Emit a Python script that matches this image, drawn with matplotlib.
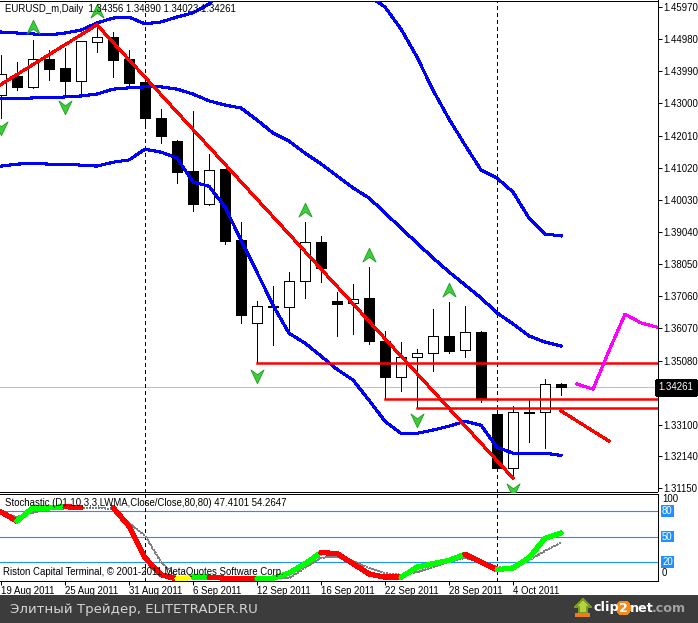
import matplotlib
matplotlib.use('Agg')
import matplotlib.pyplot as plt
from matplotlib.patches import Rectangle, Circle, Polygon
from matplotlib.collections import LineCollection
from matplotlib.path import Path
import numpy as np

plt.rcParams['font.family'] = ['Liberation Sans', 'DejaVu Sans']
plt.rcParams['lines.antialiased'] = False
plt.rcParams['patch.antialiased'] = False

# EURUSD_m daily bars, 19 Aug 2011 .. 7 Oct 2011 (bar index 0..35)
opens = [1.4326, 1.4385, 1.4351, 1.4437, 1.4409, 1.4369, 1.4489, 1.4505, 1.4437, 1.4366,
         1.4255, 1.4184, 1.4092, 1.3990, 1.4098, 1.3879, 1.3624, 1.3676, 1.3673, 1.3753,
         1.3873, 1.3692, 1.3685, 1.3701, 1.3568, 1.3457, 1.3519, 1.3531, 1.3584, 1.3541,
         1.3596, 1.3344, 1.3177, 1.3350, 1.3350, 1.34356]
highs = [1.4449, 1.4428, 1.4495, 1.4465, 1.4471, 1.4492, 1.4542, 1.4520, 1.4465, 1.4381,
         1.4283, 1.4187, 1.4277, 1.4144, 1.4098, 1.3935, 1.3692, 1.3738, 1.3781, 1.3935,
         1.3892, 1.3719, 1.3744, 1.3796, 1.3599, 1.3565, 1.3544, 1.3667, 1.3688, 1.3676,
         1.3599, 1.3356, 1.3368, 1.3387, 1.3451, 1.34390]
lows = [1.4255, 1.4341, 1.4348, 1.4372, 1.4326, 1.4320, 1.4458, 1.4381, 1.4351, 1.4224,
        1.4178, 1.4055, 1.3969, 1.3987, 1.3867, 1.3624, 1.3500, 1.3556, 1.3593, 1.3701,
        1.3750, 1.3584, 1.3590, 1.3559, 1.3390, 1.3414, 1.3362, 1.3476, 1.3531, 1.3519,
        1.3380, 1.3171, 1.3146, 1.3257, 1.3239, 1.34023]
closes = [1.4391, 1.4351, 1.4437, 1.4406, 1.4369, 1.4492, 1.4505, 1.4434, 1.4363, 1.4255,
          1.4200, 1.4089, 1.3990, 1.4095, 1.3876, 1.3648, 1.3676, 1.3673, 1.3753, 1.3873,
          1.3793, 1.3682, 1.3698, 1.3568, 1.3457, 1.3519, 1.3531, 1.3584, 1.3537, 1.3596,
          1.3390, 1.3177, 1.3350, 1.3347, 1.3436, 1.34261]

# bands (blue)
band_up = [1.4520, 1.4517, 1.4514, 1.4511, 1.4517, 1.4526, 1.4548, 1.4563, 1.4566, 1.4545,
           1.4551, 1.4566, 1.4579, 1.4606, 1.4656, 1.4696, 1.4726, 1.4742, 1.4748, 1.4742,
           1.4726, 1.4705, 1.4674, 1.4631, 1.4597, 1.4529, 1.4443, 1.4341, 1.4252, 1.4172,
           1.4095, 1.4070, 1.4027, 1.3947, 1.3898, 1.3892]
band_mid = [1.4314, 1.4314, 1.4317, 1.4317, 1.4320, 1.4323, 1.4329, 1.4344, 1.4348, 1.4351,
            1.4351, 1.4344, 1.4329, 1.4308, 1.4295, 1.4286, 1.4249, 1.4209, 1.4184, 1.4147,
            1.4114, 1.4077, 1.4040, 1.4009, 1.3963, 1.3916, 1.3870, 1.3824, 1.3781, 1.3741,
            1.3701, 1.3655, 1.3621, 1.3584, 1.3565, 1.3553]
band_low = [1.4107, 1.4113, 1.4116, 1.4113, 1.4113, 1.4110, 1.4107, 1.4119, 1.4126, 1.4159,
            1.4150, 1.4132, 1.4058, 1.4045, 1.3981, 1.3879, 1.3780, 1.3679, 1.3592, 1.3562,
            1.3522, 1.3481, 1.3448, 1.3386, 1.3321, 1.3284, 1.3284, 1.3294, 1.3306, 1.3321,
            1.3309, 1.3241, 1.3223, 1.3223, 1.3223, 1.3216]

# zigzag, support lines, projections
zz_idx = [-1, 6, 32]
zz_price = [1.4328, 1.4542, 1.3146]
support_bars = [16, 24, 26]
diag_idx = [35, 38]
diag_price = [1.3353, 1.3260]
proj_idx = [36, 37, 38, 39, 40, 41]
proj_price = [1.3436, 1.3420, 1.3538, 1.3651, 1.3624, 1.3611]

up_idx = [2, 6, 19, 23, 28]
up_price = [1.4535, 1.4585, 1.3972, 1.3833, 1.3725]
dn_idx = [0, 4, 16, 26, 32]
dn_price = [1.4224, 1.4289, 1.3460, 1.3325, 1.3109]

separators = [9, 31]

# stochastic
stoch_main = [79, 68, 84, 84, 85, 84, 85, 84, 62, 25, 5, 0, 2, 2, 1, 0, 0, 1, 7, 18,
              31, 30, 18, 6, 2, 2, 14, 18, 22, 29, 20, 11, 13, 25, 48, 54.26]
stoch_sig = [78, 73, 78, 82, 83, 84, 84, 82, 66, 51, 20, 2, 1, 1, 1, 1, 1, 1, 1, 13,
             25, 26, 21, 13, 7, 5, 8, 14, 20, 25, 20, 14, 13, 22, 33, 43]
seg_colors = ['r', 'g', 'g', 'g', 'r', None, None, 'r', 'r', 'r', 'r', 'y', 'g', 'r', 'r',
              'r', 'g', 'g', 'g', 'g', 'r', 'r', 'r', 'r', 'r', 'g', 'g', 'g', 'g', 'r',
              'r', 'g', 'g', 'g', 'g']

tick_idx = [0, 4, 8, 12, 16, 20, 24, 28, 32]
tick_labels = ['19 Aug 2011', '25 Aug 2011', '31 Aug 2011', '6 Sep 2011', '12 Sep 2011',
               '16 Sep 2011', '22 Sep 2011', '28 Sep 2011', '4 Oct 2011']
price_ticks = ['1.45970', '1.44980', '1.43990', '1.43000', '1.42010', '1.41020', '1.40030',
               '1.39040', '1.38050', '1.37060', '1.36070', '1.35080', '1.34090', '1.33100',
               '1.32140', '1.31150']

W, H = 698, 623
PTOP, PPX = 1.46186, 0.000308   # price at pixel row 0, price per pixel
BAR = 16.0                       # pixels per bar
FS = 6.9
LW = 1.5


def rect(x0, y0, x1, y1):
    return [x0 / W, 1 - y1 / H, (x1 - x0) / W, (y1 - y0) / H]


fig = plt.figure(figsize=(W / 100, H / 100), dpi=100, facecolor='white')

# ---- price window
x0, x1, y0, y1 = 0, 657.5, 0.5, 491.5
ax = fig.add_axes(rect(x0, y0, x1, y1))
ax.set_xlim((x0 - 1) / BAR, (x1 - 1) / BAR)
ax.set_ylim(PTOP - PPX * y1, PTOP - PPX * y0)
ax.spines['left'].set_visible(False)
for s in ['top', 'right', 'bottom']:
    ax.spines[s].set_linewidth(0.72)

ax.axhline(closes[-1], color='#c0c0c0', lw=0.72, zorder=1)

for i in range(len(opens)):
    o, h, l, c = opens[i], highs[i], lows[i], closes[i]
    ax.vlines(i, l, h, color='black', lw=0.72, zorder=2)
    bottom = min(o, c)
    height = max(abs(c - o), PPX * 0.9)
    fc = 'white' if c > o else 'black'
    ax.add_patch(Rectangle((i - 0.31, bottom), 0.62, height, facecolor=fc,
                           edgecolor='black', lw=0.72, zorder=2.5))

idx = np.arange(len(opens))
for band in [band_up, band_mid, band_low]:
    ax.plot(idx, band, color='#0000ff', lw=LW, zorder=3)

ax.plot(zz_idx, zz_price, color='#ff0000', lw=LW, zorder=3)
for b in support_bars:
    ax.plot([b, 45], [lows[b], lows[b]], color='#ff0000', lw=1.8, zorder=3,
            antialiased=True)
ax.plot(diag_idx, diag_price, color='#ff0000', lw=LW, zorder=3)
ax.plot(proj_idx, proj_price, color='#ff00ff', lw=LW, zorder=3)

up_path = Path([(0, 0.5), (0.45, -0.45), (0, -0.12), (-0.45, -0.45), (0, 0.5)],
               [Path.MOVETO, Path.LINETO, Path.LINETO, Path.LINETO, Path.CLOSEPOLY])
dn_path = Path([(0, -0.5), (0.45, 0.45), (0, 0.12), (-0.45, 0.45), (0, -0.5)],
               [Path.MOVETO, Path.LINETO, Path.LINETO, Path.LINETO, Path.CLOSEPOLY])
ax.plot(up_idx, up_price, ls='none', marker=up_path, markersize=10.5,
        markerfacecolor='#3ccc3c', markeredgecolor='#1e9e1e', markeredgewidth=0.6, zorder=4)
ax.plot(dn_idx, dn_price, ls='none', marker=dn_path, markersize=10.5,
        markerfacecolor='#3ccc3c', markeredgecolor='#1e9e1e', markeredgewidth=0.6, zorder=4)

for s in separators:
    ax.axvline(s, color='black', lw=0.72, ls=(0, (3, 3)), zorder=1.5)

ax.set_xticks([])
ax.yaxis.tick_right()
ax.set_yticks([float(t) for t in price_ticks])
ax.set_yticklabels(price_ticks)
ax.tick_params(axis='y', direction='out', length=3, width=0.72, pad=1, labelsize=FS)
ax.text(1.0015, closes[-1], '%.5f' % closes[-1], transform=ax.get_yaxis_transform(),
        color='white', fontsize=FS, va='center', ha='left', zorder=10,
        bbox=dict(boxstyle='square,pad=0.25', fc='black', ec='black'))

# ---- stochastic window
sy0, sy1 = 493.5, 580.5
ax2 = fig.add_axes(rect(x0, sy0, x1, sy1))
ax2.set_xlim((x0 - 1) / BAR, (x1 - 1) / BAR)
ax2.set_ylim((579 - sy1) / 0.85, (579 - sy0) / 0.85)
ax2.spines['left'].set_visible(False)
for s in ['top', 'right', 'bottom']:
    ax2.spines[s].set_linewidth(0.72)
for lv in [80, 50, 20]:
    ax2.axhline(lv, color='#1e90ff', lw=0.8, zorder=1, antialiased=True)
for s in separators:
    ax2.axvline(s, color='black', lw=0.72, ls=(0, (3, 3)), zorder=1.5)

ax2.plot(idx, stoch_sig, color='#808080', lw=0.72, ls=(0, (2, 2)), zorder=2)
cmap = {'r': '#ff0000', 'g': '#00ff00', 'y': '#ffff00'}
segs, cols = [], []
for k in range(len(stoch_main) - 1):
    if seg_colors[k] is None:
        continue
    segs.append([(k, stoch_main[k]), (k + 1, stoch_main[k + 1])])
    cols.append(cmap[seg_colors[k]])
ax2.add_collection(LineCollection(segs, colors=cols, linewidths=3.0, zorder=3,
                                  capstyle='round', antialiased=False))

ax2.set_yticks([])
ax2.set_xticks(tick_idx)
ax2.set_xticklabels(tick_labels, ha='left', fontsize=FS)
ax2.tick_params(axis='x', direction='out', length=3, width=0.72, pad=1)
ytr = ax2.get_yaxis_transform()
ax2.text(1.007, 94, '100', transform=ytr, fontsize=FS, va='center', ha='left')
ax2.text(1.007, 7, '0', transform=ytr, fontsize=FS, va='center', ha='left')
for lv in [80, 50, 20]:
    ax2.text(1.007, lv, str(lv), transform=ytr, fontsize=FS, va='center', ha='left',
             color='white', bbox=dict(boxstyle='square,pad=0.1', fc='#1e90ff', ec='none'))

# ---- texts and banner (pixel overlay)
ov = fig.add_axes([0, 0, 1, 1], zorder=20)
ov.set_xlim(0, W)
ov.set_ylim(H, 0)
ov.axis('off')
ov.text(5, 8.5, 'EURUSD_m,Daily  1.34356 1.34390 1.34023 1.34261', fontsize=FS, va='center')
ov.text(5, 503, 'Stochastic (D1,10,3,3,LWMA,Close/Close,80,80) 47.4101 54.2647',
        fontsize=FS, va='center')
ov.text(3, 572, 'Riston Capital Terminal, \u00a9 2001-2011 MetaQuotes Software Corp.',
        fontsize=FS, va='center')

ov.add_patch(Rectangle((0, 595), W, 28, facecolor='#3c3c3c', edgecolor='none'))
ov.text(10, 609, 'Элитный Трейдер, ELITETRADER.RU', fontsize=9.6, color='#d4d4d4',
        va='center', family='DejaVu Sans')
ov.add_patch(Polygon([(583, 599), (591, 607), (587, 607), (587, 613), (579, 613),
                      (579, 607), (575, 607)], closed=True, facecolor='#b5d33a',
                     edgecolor='#7a9a20', lw=0.5))
ov.add_patch(Rectangle((575, 613), 15, 4, facecolor='#f07a20', edgecolor='none'))
ov.text(593, 608, 'clip', fontsize=9.2, fontweight='bold', color='white', va='center',
        family='DejaVu Sans')
ov.add_patch(Circle((623.5, 608), 7, facecolor='#f08a1a', edgecolor='none'))
ov.text(623.5, 608, '2', fontsize=9.2, fontweight='bold', color='white', va='center',
        ha='center', family='DejaVu Sans')
ov.text(630, 608, 'net', fontsize=9.2, fontweight='bold', color='white', va='center',
        family='DejaVu Sans')
ov.text(652, 608, '.com', fontsize=9.2, fontweight='bold', color='#a0a0a0', va='center',
        family='DejaVu Sans')

fig.savefig('out.png', dpi=100, facecolor='white')
